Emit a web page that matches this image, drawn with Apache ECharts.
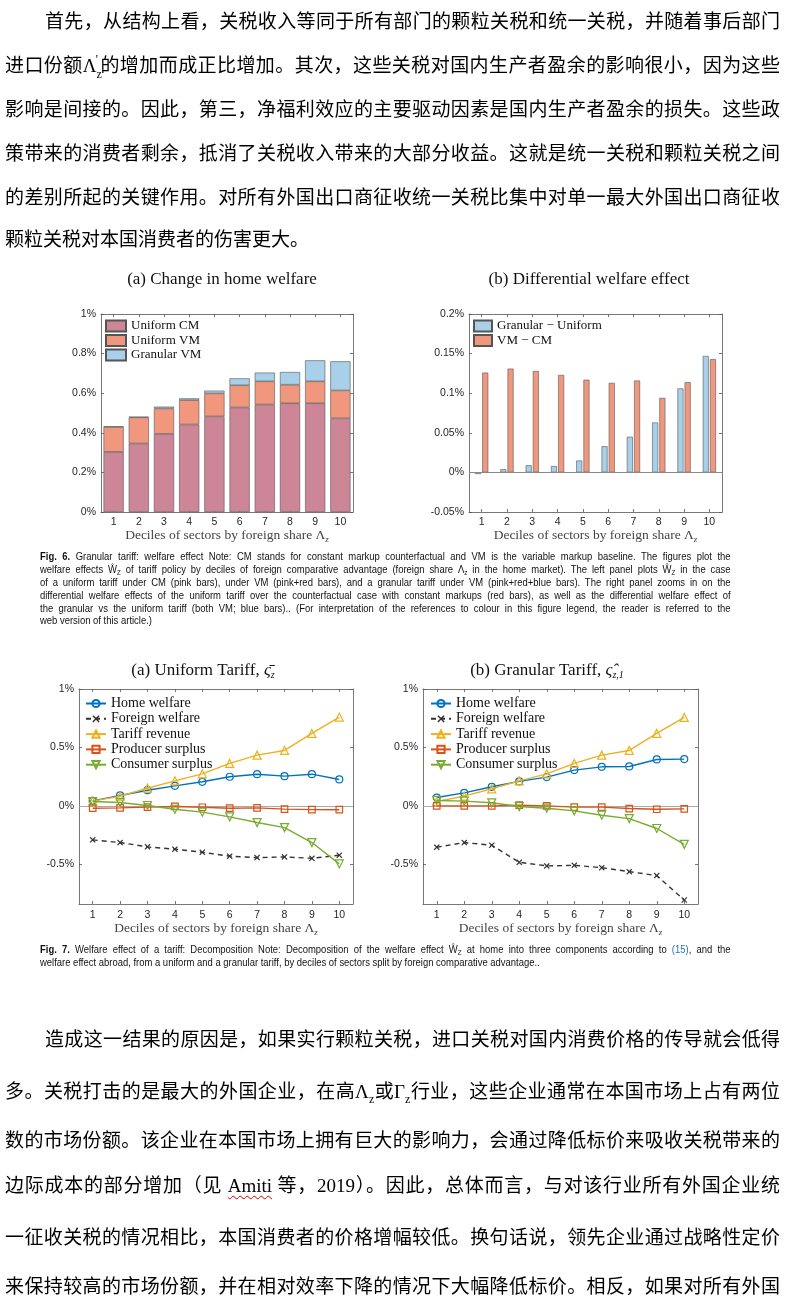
<!DOCTYPE html>
<html>
<head>
<meta charset="utf-8">
<script src="https://cdn.jsdelivr.net/npm/echarts@6/dist/echarts.min.js"></script>
<style>
body{margin:0;background:#fff}
#wrap{position:relative;width:791px;height:1306px;overflow:hidden;background:#fff}
#chart{position:absolute;left:0;top:0;width:791px;height:1306px}
.cn{position:absolute;left:5px;width:775px;height:30px;line-height:30px;font-size:19px;font-family:"Liberation Serif","Noto Sans CJK SC",serif;color:#000;white-space:nowrap;text-align:justify;text-align-last:justify}
.cn.first{left:45px;width:735px}
.cn.last{text-align-last:left}
.cap{position:absolute;left:40px;width:803px;height:13px;line-height:13px;font-size:11px;font-family:"Liberation Sans",sans-serif;color:#111;white-space:nowrap;text-align:justify;text-align-last:justify;transform:scaleX(0.86);transform-origin:0 0}
.cap.last{text-align-last:left}
.sb{font-size:0.65em;position:relative;top:0.3em}
.lnk{color:#2a6ebb}
.wavy{text-decoration:underline wavy #d00;text-decoration-thickness:1px;text-underline-offset:3px}
</style>
</head>
<body>
<div id="wrap">
<div id="chart"></div>

<div class="cn first" style="top:7px">首先，从结构上看，关税收入等同于所有部门的颗粒关税和统一关税，并随着事后部门</div>
<div class="cn" style="top:51px">进口份额Λ<span style="font-size:12px;position:relative;top:6px">z</span><span style="font-size:12px;position:relative;top:-9px;left:-6px;margin-right:-4px">'</span>的增加而成正比增加。其次，这些关税对国内生产者盈余的影响很小，因为这些</div>
<div class="cn" style="top:95px">影响是间接的。因此，第三，净福利效应的主要驱动因素是国内生产者盈余的损失。这些政</div>
<div class="cn" style="top:139px">策带来的消费者剩余，抵消了关税收入带来的大部分收益。这就是统一关税和颗粒关税之间</div>
<div class="cn" style="top:183px">的差别所起的关键作用。对所有外国出口商征收统一关税比集中对单一最大外国出口商征收</div>
<div class="cn last" style="top:225px">颗粒关税对本国消费者的伤害更大。</div>

<div class="cap" style="top:550px"><b>Fig. 6.</b> Granular tariff: welfare effect Note: CM stands for constant markup counterfactual and VM is the variable markup baseline. The figures plot the</div>
<div class="cap" style="top:563px">welfare effects Ŵ<span class="sb">Z</span> of tariff policy by deciles of foreign comparative advantage (foreign share Λ<span class="sb">z</span> in the home market). The left panel plots Ŵ<span class="sb">Z</span> in the case</div>
<div class="cap" style="top:576px">of a uniform tariff under CM (pink bars), under VM (pink+red bars), and a granular tariff under VM (pink+red+blue bars). The right panel zooms in on the</div>
<div class="cap" style="top:589px">differential welfare effects of the uniform tariff over the counterfactual case with constant markups (red bars), as well as the differential welfare effect of</div>
<div class="cap" style="top:602px">the granular vs the uniform tariff (both VM; blue bars).. (For interpretation of the references to colour in this figure legend, the reader is referred to the</div>
<div class="cap last" style="top:614px">web version of this article.)</div>

<div class="cap" style="top:943px"><b>Fig. 7.</b> Welfare effect of a tariff: Decomposition Note: Decomposition of the welfare effect Ŵ<span class="sb">Z</span> at home into three components according to <span class="lnk">(15)</span>, and the</div>
<div class="cap last" style="top:956px">welfare effect abroad, from a uniform and a granular tariff, by deciles of sectors split by foreign comparative advantage..</div>

<div class="cn first" style="top:1025px">造成这一结果的原因是，如果实行颗粒关税，进口关税对国内消费价格的传导就会低得</div>
<div class="cn" style="top:1077px">多。关税打击的是最大的外国企业，在高Λ<span style="font-size:12px;position:relative;top:5px">z</span>或Γ<span style="font-size:12px;position:relative;top:5px">z</span>行业，这些企业通常在本国市场上占有两位</div>
<div class="cn" style="top:1126px">数的市场份额。该企业在本国市场上拥有巨大的影响力，会通过降低标价来吸收关税带来的</div>
<div class="cn" style="top:1171px">边际成本的部分增加（见 <span class="wavy">Amiti</span> 等，2019）。因此，总体而言，与对该行业所有外国企业统</div>
<div class="cn" style="top:1223px">一征收关税的情况相比，本国消费者的价格增幅较低。换句话说，领先企业通过战略性定价</div>
<div class="cn" style="top:1272px">来保持较高的市场份额，并在相对效率下降的情况下大幅降低标价。相反，如果对所有外国</div>
</div>

<script>
// ---------- data ----------
const cats = ['1','2','3','4','5','6','7','8','9','10'];
// Fig 6 (a): stacked contributions (%)
const uniformCM  = [0.304,0.346,0.395,0.442,0.483,0.528,0.543,0.549,0.549,0.473];
const uniformVM  = [0.126,0.132,0.128,0.123,0.116,0.112,0.117,0.094,0.111,0.141];
const granularVM = [0.002,0.003,0.009,0.009,0.014,0.035,0.044,0.064,0.106,0.147];
// Fig 6 (b): differential effects (%)
const diffGranular = [-0.002,0.004,0.009,0.008,0.015,0.033,0.045,0.063,0.106,0.147];
const diffVM       = [0.126,0.131,0.128,0.123,0.117,0.113,0.116,0.094,0.114,0.143];
// Fig 7 (a): uniform tariff (%)
const uHome     = [0.043,0.089,0.134,0.171,0.206,0.249,0.271,0.254,0.271,0.226];
const uForeign  = [-0.291,-0.314,-0.351,-0.371,-0.397,-0.431,-0.443,-0.437,-0.449,-0.423];
const uTariff   = [0.040,0.083,0.151,0.214,0.274,0.363,0.434,0.474,0.620,0.760];
const uProducer = [-0.020,-0.017,-0.011,-0.005,-0.012,-0.020,-0.017,-0.028,-0.032,-0.033];
const uConsumer = [0.037,0.029,0.003,-0.029,-0.054,-0.094,-0.143,-0.186,-0.314,-0.497];
// Fig 7 (b): granular tariff (%)
const gHome     = [0.071,0.111,0.163,0.209,0.246,0.306,0.334,0.337,0.397,0.400];
const gForeign  = [-0.354,-0.314,-0.337,-0.483,-0.514,-0.509,-0.529,-0.563,-0.597,-0.806];
const gTariff   = [0.037,0.083,0.146,0.214,0.274,0.363,0.434,0.474,0.620,0.757];
const gProducer = [0.000,0.000,0.000,0.006,0.000,-0.011,-0.011,-0.023,-0.029,-0.026];
const gConsumer = [0.046,0.040,0.026,-0.006,-0.020,-0.043,-0.080,-0.109,-0.194,-0.329];
// tick labels
const lineTicks = [-0.5,0,0.5,1];
const lineNames = ['Home welfare','Foreign welfare','Tariff revenue','Producer surplus','Consumer surplus'];

// ---------- styles ----------
const serif = 'Liberation Serif';
const sans = 'Liberation Sans';
const axisColor = '#555';
const pct = v => (Math.round(v*100)/100) + '%';

const axisLine = {show:true, onZero:false, lineStyle:{color:axisColor, width:0.8}};
const tick = {show:true, inside:true, length:3, lineStyle:{color:axisColor, width:0.8}};
const xName = '{a|Deciles of sectors by foreign share Λ}{s|z}';
const xNameStyle = {rich:{
  a:{fontFamily:serif, fontSize:13.5, color:'#444'},
  s:{fontFamily:serif, fontSize:9, fontStyle:'italic', color:'#444', padding:[7,0,0,0]}
}};

function xAxes(g, nameGap, margin){
  return [
    {type:'category', gridIndex:g, data:cats, position:'bottom', boundaryGap:true,
     axisLine, axisTick:Object.assign({alignWithLabel:true}, tick),
     axisLabel:{margin, fontFamily:sans, fontSize:10.5, color:'#262626'},
     splitLine:{show:false}, name:xName, nameLocation:'middle', nameGap, nameTextStyle:xNameStyle},
    {type:'category', gridIndex:g, data:cats, position:'top', boundaryGap:true,
     axisLine, axisTick:Object.assign({alignWithLabel:true}, tick),
     axisLabel:{show:false}, splitLine:{show:false}}
  ];
}
function yAxes(g, extra){
  const lab = Object.assign({margin:5, fontFamily:sans, fontSize:10.5, color:'#262626', formatter:pct}, extra.label||{});
  const tk = Object.assign({}, tick, extra.tick||{});
  const base = {type:'value', gridIndex:g, min:extra.min, max:extra.max, splitLine:{show:false}, axisLine};
  if (extra.interval !== undefined) base.interval = extra.interval;
  return [
    Object.assign({}, base, {position:'left', axisTick:tk, axisLabel:lab}),
    Object.assign({}, base, {position:'right', axisTick:tk, axisLabel:{show:false, customValues:(extra.label||{}).customValues}})
  ];
}

const xAxis = [].concat(xAxes(0,14,5), xAxes(1,14,5), xAxes(2,16,6), xAxes(3,16,6));
const yAxis = [].concat(
  yAxes(0,{min:0,max:1,interval:0.2}),
  yAxes(1,{min:-0.05,max:0.2,interval:0.05}),
  yAxes(2,{min:-0.84,max:1,label:{customValues:lineTicks},tick:{customValues:lineTicks}}),
  yAxes(3,{min:-0.84,max:1,label:{customValues:lineTicks},tick:{customValues:lineTicks}})
);

const barBorder = {borderColor:'#555', borderWidth:0.6};
const zeroLine = (color) => ({silent:true, symbol:'none', label:{show:false},
  lineStyle:{color, type:'solid', width:1}, data:[{yAxis:0}]});

const xPath = 'path://M0,1.4L1.4,0L5,3.6L8.6,0L10,1.4L6.4,5L10,8.6L8.6,10L5,6.4L1.4,10L0,8.6L3.6,5Z';
const downTri = 'path://M0,0L10,0L5,8.66Z';
const lineDefs = [
  {color:'#0072BD', symbol:'circle', size:7, dash:'solid'},
  {color:'#333333', symbol:xPath, size:6, dash:[5,4], filled:true},
  {color:'#EDB120', symbol:'triangle', size:8, dash:'solid'},
  {color:'#D95319', symbol:'rect', size:6.5, dash:'solid'},
  {color:'#77AC30', symbol:downTri, size:8, dash:'solid'}
];
function lineSeries(axisIdx, datas){
  return datas.map((d,i) => {
    const def = lineDefs[i];
    const s = {
      type:'line', name:lineNames[i], xAxisIndex:axisIdx, yAxisIndex:axisIdx, data:d,
      symbol:def.symbol, symbolSize:def.size, showSymbol:true,
      lineStyle:{color:def.color, width:1.4, type:def.dash},
      itemStyle: def.filled ? {color:def.color, borderWidth:0}
                            : {color:'rgba(255,255,255,0)', borderColor:def.color, borderWidth:1.2},
      emphasis:{disabled:true}, animation:false, z:3+i
    };
    if (i === 0) s.markLine = zeroLine('#aaa');
    return s;
  });
}

const titleRich = {
  a:{fontFamily:serif,fontSize:17,fontWeight:'normal',color:'#111'},
  b:{fontFamily:serif,fontSize:17,fontWeight:'normal',fontStyle:'italic',color:'#111'},
  s:{fontFamily:serif,fontSize:10,fontWeight:'normal',fontStyle:'italic',color:'#111',padding:[8,0,0,0]}
};
const option = {
  animation:false,
  title:[
    {text:'(a) Change in home welfare', left:222, top:271, textAlign:'center', padding:0,
     textStyle:{fontFamily:serif, fontSize:17, fontWeight:'normal', color:'#111'}},
    {text:'(b) Differential welfare effect', left:589, top:271, textAlign:'center', padding:0,
     textStyle:{fontFamily:serif, fontSize:17, fontWeight:'normal', color:'#111'}},
    {text:'{a|(a) Uniform Tariff, }{b|ς\u0304}{s|z}', left:203, top:662, textAlign:'center', padding:0,
     textStyle:{fontWeight:'normal', rich:titleRich}},
    {text:'{a|(b) Granular Tariff, }{b|ς\u0302}{s|z,1}', left:547, top:662, textAlign:'center', padding:0,
     textStyle:{fontWeight:'normal', rich:titleRich}}
  ],
  grid:[
    {left:101, top:314, width:252, height:198},
    {left:469, top:314, width:253, height:198},
    {left:79, top:689, width:274, height:215},
    {left:423, top:689, width:275, height:215}
  ],
  legend:[
    {data:['Uniform CM','Uniform VM','Granular VM'], orient:'vertical', left:105, top:319,
     icon:'rect', itemWidth:20, itemHeight:11, itemGap:0.5, padding:0,
     textStyle:{fontFamily:serif, fontSize:13, color:'#111', lineHeight:14}},
    {data:['Granular − Uniform','VM − CM'], orient:'vertical', left:473, top:319,
     icon:'rect', itemWidth:18, itemHeight:11, itemGap:0.5, padding:0,
     textStyle:{fontFamily:serif, fontSize:13, color:'#111', lineHeight:14}},
    {data:lineNames, orient:'vertical', left:85, top:696, itemWidth:20, itemHeight:9, itemGap:0.3, padding:0,
     textStyle:{fontFamily:serif, fontSize:14, color:'#111', lineHeight:15}},
    {data:lineNames, orient:'vertical', left:430, top:696, itemWidth:20, itemHeight:9, itemGap:0.3, padding:0,
     textStyle:{fontFamily:serif, fontSize:14, color:'#111', lineHeight:15}}
  ],
  xAxis, yAxis,
  series:[
    {type:'bar', name:'Uniform CM', xAxisIndex:0, yAxisIndex:0, stack:'w', data:uniformCM, barWidth:'80%',
     itemStyle:Object.assign({color:'#cc8697'}, barBorder)},
    {type:'bar', name:'Uniform VM', xAxisIndex:0, yAxisIndex:0, stack:'w', data:uniformVM, barWidth:'80%',
     itemStyle:Object.assign({color:'#f0977e'}, barBorder)},
    {type:'bar', name:'Granular VM', xAxisIndex:0, yAxisIndex:0, stack:'w', data:granularVM, barWidth:'80%',
     itemStyle:Object.assign({color:'#a8d0e8'}, barBorder)},
    {type:'bar', name:'Granular − Uniform', xAxisIndex:2, yAxisIndex:2, data:diffGranular, barWidth:6, barGap:'20%',
     itemStyle:Object.assign({color:'#a8d0e8'}, barBorder), markLine:zeroLine('#888')},
    {type:'bar', name:'VM − CM', xAxisIndex:2, yAxisIndex:2, data:diffVM, barWidth:6, barGap:'20%',
     itemStyle:Object.assign({color:'#f0977e'}, barBorder)}
  ].concat(
    lineSeries(4, [uHome,uForeign,uTariff,uProducer,uConsumer]),
    lineSeries(6, [gHome,gForeign,gTariff,gProducer,gConsumer])
  )
};
const chart = echarts.init(document.getElementById('chart'), null, {renderer:'canvas'});
chart.setOption(option);
</script>
</body>
</html>
